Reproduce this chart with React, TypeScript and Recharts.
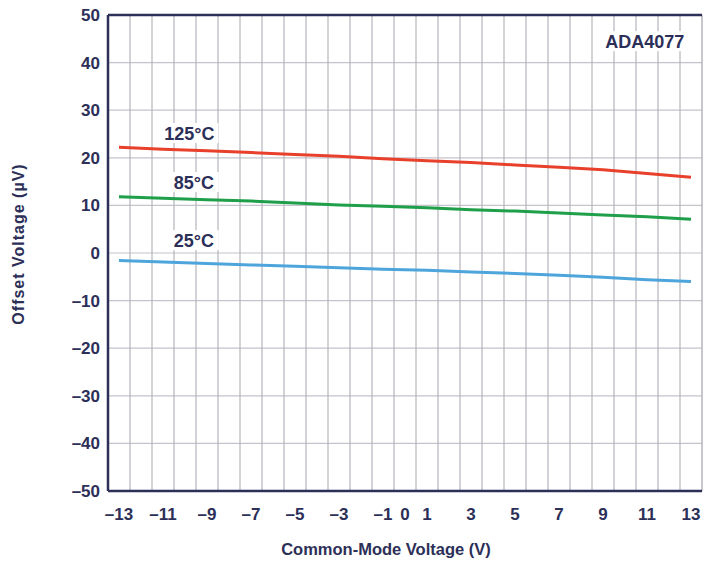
import {
  CartesianGrid,
  Line,
  LineChart,
  ReferenceDot,
  ReferenceLine,
  XAxis,
  YAxis,
} from "recharts";

const cmVoltage = [-13, -11, -9, -7, -5, -3, -1, 1, 3, 5, 7, 9, 11, 13];
const offset125 = [22.2, 21.8, 21.5, 21.1, 20.7, 20.3, 19.8, 19.4, 19.0, 18.5, 18.0, 17.5, 16.7, 15.9];
const offset85 = [11.8, 11.5, 11.2, 10.9, 10.5, 10.1, 9.8, 9.5, 9.1, 8.8, 8.4, 8.0, 7.6, 7.1];
const offset25 = [-1.6, -1.9, -2.2, -2.5, -2.8, -3.1, -3.4, -3.6, -4.0, -4.3, -4.7, -5.1, -5.6, -6.0];

const xTicks = [-13, -11, -9, -7, -5, -3, -1, 0, 1, 3, 5, 7, 9, 11, 13];
const yTicks = [-50, -40, -30, -20, -10, 0, 10, 20, 30, 40, 50];
const gridX = [
  -12.5, -11.5, -10.5, -9.5, -8.5, -7.5, -6.5, -5.5, -4.5, -3.5, -2.5, -1.5, -0.5,
  0.5, 1.5, 2.5, 3.5, 4.5, 5.5, 6.5, 7.5, 8.5, 9.5, 10.5, 11.5, 12.5,
];

const data = cmVoltage.map((v, i) => ({
  v,
  t125: offset125[i],
  t85: offset85[i],
  t25: offset25[i],
}));

const INK = "#2c2f57";
const FONT = "'Liberation Sans', Arial, sans-serif";
const dash = (n: number) => String(n).replace("-", "\u2013");

const Tag = ({ viewBox, text, w, anchor = "middle" }: any) => {
  const x = viewBox.x + (viewBox.width || 0) / 2;
  const y = viewBox.y + (viewBox.height || 0) / 2;
  const left = anchor === "end" ? x - w : x - w / 2;
  return (
    <g>
      <rect x={left - 2} y={y - 10} width={w + 4} height={20} fill="#fff" />
      <text
        x={x}
        y={y}
        dy="0.36em"
        textAnchor={anchor}
        fill={INK}
        fontFamily={FONT}
        fontWeight="bold"
        fontSize={18}
      >
        {text}
      </text>
    </g>
  );
};

const YTitle = ({ viewBox }: any) => {
  const x = 18;
  const y = viewBox.y + viewBox.height / 2 - 9;
  return (
    <text
      x={x}
      y={y}
      transform={`rotate(-90, ${x}, ${y})`}
      textAnchor="middle"
      dy="0.36em"
      fill={INK}
      fontFamily={FONT}
      fontWeight="bold"
      fontSize={16}
      letterSpacing={1}
    >
      Offset Voltage (µV)
    </text>
  );
};

const XTitle = ({ viewBox }: any) => {
  const x = viewBox.x + viewBox.width / 2 - 19;
  return (
    <text
      x={x}
      y={555}
      textAnchor="middle"
      fill={INK}
      fontFamily={FONT}
      fontWeight="bold"
      fontSize={16.5}
    >
      Common-Mode Voltage (V)
    </text>
  );
};

const tickStyle = { fill: INK, fontFamily: FONT, fontWeight: "bold", fontSize: 17 };

export default function App() {
  return (
    <div style={{ position: "absolute", left: 0, top: 0 }}>
      <style>{`body{margin:0}`}</style>
      <LineChart
        width={720}
        height={561}
        data={data}
        margin={{ top: 15, right: 18, left: 0, bottom: 20 }}
      >
        <CartesianGrid vertical={false} stroke="#c4c4cc" strokeWidth={1.2} />
        {gridX.map((g) => (
          <ReferenceLine key={g} x={g} stroke="#b4b4bc" strokeWidth={1.2} />
        ))}
        <ReferenceLine x={13.5} stroke="#b4b4bc" strokeWidth={1.5} />
        <ReferenceLine y={50} stroke={INK} strokeWidth={2.5} />
        <XAxis
          dataKey="v"
          type="number"
          domain={[-13.5, 13.5]}
          ticks={xTicks}
          interval={0}
          tickFormatter={dash}
          tickLine={false}
          tickSize={0}
          tickMargin={17}
          height={50}
          axisLine={{ stroke: INK, strokeWidth: 2.5 }}
          tick={tickStyle}
          label={<XTitle />}
        />
        <YAxis
          type="number"
          domain={[-50, 50]}
          ticks={yTicks}
          interval={0}
          tickFormatter={dash}
          tickLine={false}
          tickSize={0}
          tickMargin={8}
          width={108}
          axisLine={{ stroke: INK, strokeWidth: 2.5 }}
          tick={tickStyle}
          label={<YTitle />}
        />
        <Line dataKey="t125" stroke="#e8402b" strokeWidth={3} dot={false} isAnimationActive={false} />
        <Line dataKey="t85" stroke="#1f9f4a" strokeWidth={3} dot={false} isAnimationActive={false} />
        <Line dataKey="t25" stroke="#4ea5dc" strokeWidth={3} dot={false} isAnimationActive={false} />
        <ReferenceDot x={-9.8} y={25.2} r={0} stroke="none" label={<Tag text="125°C" w={54} />} />
        <ReferenceDot x={-9.6} y={14.9} r={0} stroke="none" label={<Tag text="85°C" w={46} />} />
        <ReferenceDot x={-9.6} y={2.7} r={0} stroke="none" label={<Tag text="25°C" w={46} />} />
        <ReferenceDot x={12.7} y={44.5} r={0} stroke="none" label={<Tag text="ADA4077" w={82} anchor="end" />} />
      </LineChart>
    </div>
  );
}
